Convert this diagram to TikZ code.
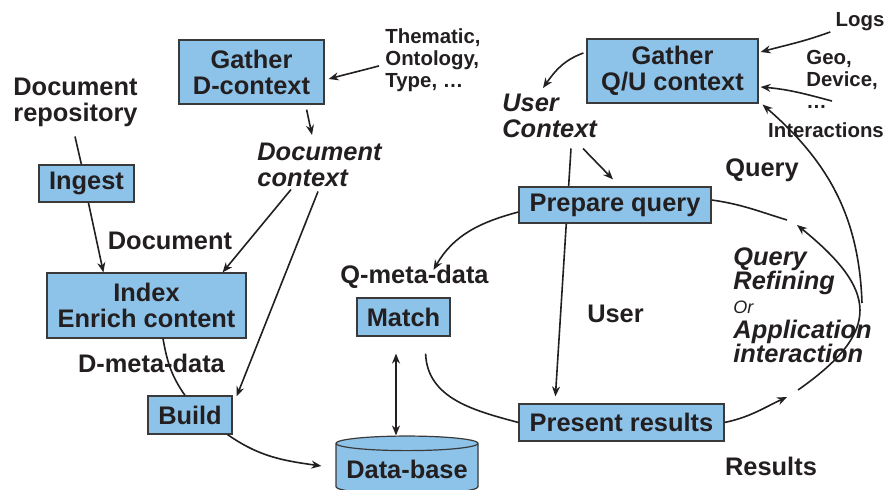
\documentclass[tikz,border=0pt]{standalone}
\usepackage{fontspec}
\setmainfont{Liberation Sans}
\usetikzlibrary{arrows.meta,shapes.geometric,calc,backgrounds}
\definecolor{boxblue}{HTML}{8DC3E9}
\definecolor{edge}{HTML}{3A3A3A}
\definecolor{ink}{HTML}{231F20}
\tikzset{
  box/.style={draw=edge,fill=boxblue,line width=0.6pt,align=center,inner sep=0pt,text=ink,font=\fontsize{12.7}{13}\selectfont\bfseries},
  dbase/.style={box,cylinder,shape border rotate=90,aspect=0.12,cylinder uses custom fill,cylinder body fill=boxblue,cylinder end fill=boxblue!75!white},
  lbl/.style={align=left,inner sep=0pt,text=ink,font=\fontsize{12.7}{13}\selectfont\bfseries},
  ilbl/.style={lbl,font=\fontsize{12.7}{13}\selectfont\bfseries\itshape},
  slbl/.style={lbl,font=\fontsize{10.2}{11}\selectfont\bfseries},
  ln/.style={line width=0.8pt,draw=ink},
  ar/.style={ln,-{Stealth[length=5pt,width=4pt]}},
  dar/.style={ln,{Stealth[length=5pt,width=4pt]}-{Stealth[length=5pt,width=4pt]}},
}
\begin{document}
\begin{tikzpicture}[x=0.5pt,y=0.5pt]
  \useasboundingbox (0,0) rectangle (888,-490);
  % document side
  \node[box,minimum width=72.5pt,minimum height=32pt] (gatherd) at (251.5,-72) {Gather\\D-context};
  \node[box,minimum width=47.5pt,minimum height=18.5pt] (ingest) at (86.5,-183.5) {Ingest};
  \node[box,minimum width=99.5pt,minimum height=32.5pt] (index) at (146.5,-305.5) {Index\\Enrich content};
  \node[box,minimum width=42pt,minimum height=19pt] (build) at (190,-415) {Build};
  \node[dbase,minimum width=71pt,minimum height=29pt] (db) at (407,-469) {Data-base};
  \node[lbl,anchor=north west] (repo) at (13,-78) {Document\\repository};
  \node[slbl,anchor=north west] (thematic) at (385,-28) {Thematic,\\Ontology,\\Type, …};
  \node[ilbl,anchor=north west] (dctx) at (257,-143) {Document\\context};
  \node[lbl] (doclbl) at (170,-241) {Document};
  \node[lbl] (dmeta) at (151.5,-363) {D-meta-data};
  % query side
  \node[box,minimum width=85.5pt,minimum height=32pt] (gatherq) at (672.5,-71) {Gather\\Q/U context};
  \node[box,minimum width=96pt,minimum height=18pt] (prep) at (615,-205) {Prepare query};
  \node[box,minimum width=46.5pt,minimum height=19pt] (match) at (403.5,-317) {Match};
  \node[box,minimum width=102.5pt,minimum height=18.5pt] (present) at (621.5,-422.5) {Present results};
  \node[ilbl,anchor=north west] (uctx) at (502,-94) {User\\Context};
  \node[slbl] (logs) at (860,-22) {Logs};
  \node[slbl,anchor=north west] (geo) at (806,-50) {Geo,\\Device,\\…};
  \node[slbl] (inter) at (826,-130) {Interactions};
  \node[lbl] (querylbl) at (762,-170) {Query};
  \node[lbl] (qmeta) at (414.5,-277) {Q-meta-data};
  \node[lbl] (userlbl) at (615.5,-314) {User};
  \node[lbl] (results) at (771,-466) {Results};
  \node[ilbl,anchor=north west,font=\fontsize{12.7}{12.2}\selectfont\bfseries\itshape] (refine) at (733,-247)
    {Query\\Refining\\{\fontsize{9}{10}\selectfont\mdseries Or}\\Application\\interaction};
  \coordinate (qend) at (787,-220);
  \coordinate (rend) at (787,-397);
  \coordinate (arcs) at (798,-390);
  \coordinate (arce) at (797,-225);
  \coordinate (fb) at (862,-303);

  % document flow
  \draw[ar] ($(thematic.west)+(-6,-6)$) to[out=195,in=15] ($(gatherd.east)+(4,-7)$);
  \draw[ar] ($(gatherd.south east)+(-18,-5)$) -- ($(dctx.north west)+(55,8)$);
  \draw[ln] ($(repo.south west)+(62,-9)$) -- ($(ingest.north west)+(43,0)$);
  \draw[ar] ($(ingest.south west)+(50,0)$) -- ($(index.north west)+(57,0)$);
  \draw[ar] ($(dctx.south west)+(34,-2)$) -- ($(index.north east)+(-24,0)$);
  \draw[ar] ($(dctx.south west)+(61,-4)$) -- ($(build.north east)+(4,-1)$);
  \draw[ln] ($(index.south)+(16.5,0)$) to[out=-80,in=125] ($(build.north)+(-5,0)$);
  \draw[ar] ($(build.south east)+(-5,0)$) to[out=-35,in=172] ($(db.west)+(-14,3)$);
  \draw[dar] ($(match.south)+(-7.5,-17)$) -- ($(db.north)+(-11,0)$);

  % query flow
  \begin{scope}[on background layer]
    \draw[ar] ($(uctx.south west)+(69,-10)$) -- ($(present.north west)+(37,7)$);
  \end{scope}
  \draw[ar] ($(uctx.south west)+(81,-10)$) -- ($(prep.north)+(-2,7)$);
  \draw[ar] ($(gatherq.west)+(-3,18)$) to[out=200,in=55] ($(uctx.north west)+(41,6)$);
  \draw[ar] ($(logs.west)+(-5,-10)$) to[out=200,in=15] ($(gatherq.east)+(2,19)$);
  \draw[ar] ($(geo.south west)+(26,8)$) to[out=165,in=-5] ($(gatherq.east)+(2,-16)$);
  \draw[ar] ($(prep.west)+(0,-7)$) to[out=195,in=60] ($(qmeta.north)+(19,-5)$);
  \draw[ln] ($(match.south east)+(-25,-17)$) to[out=-88,in=165] (present.west);

  % refining loop
  \draw[ln] ($(prep.east)+(0,5)$) to[out=-8,in=163] (qend);
  \draw[ar] (present.east) to[out=12,in=205] (rend);
  \draw[ar] (arcs) to[out=35,in=-39,looseness=1.6] (arce);
  \draw[ar] (fb) to[out=92,in=-41] ($(gatherq.south east)+(4,-1)$);
\end{tikzpicture}
\end{document}
